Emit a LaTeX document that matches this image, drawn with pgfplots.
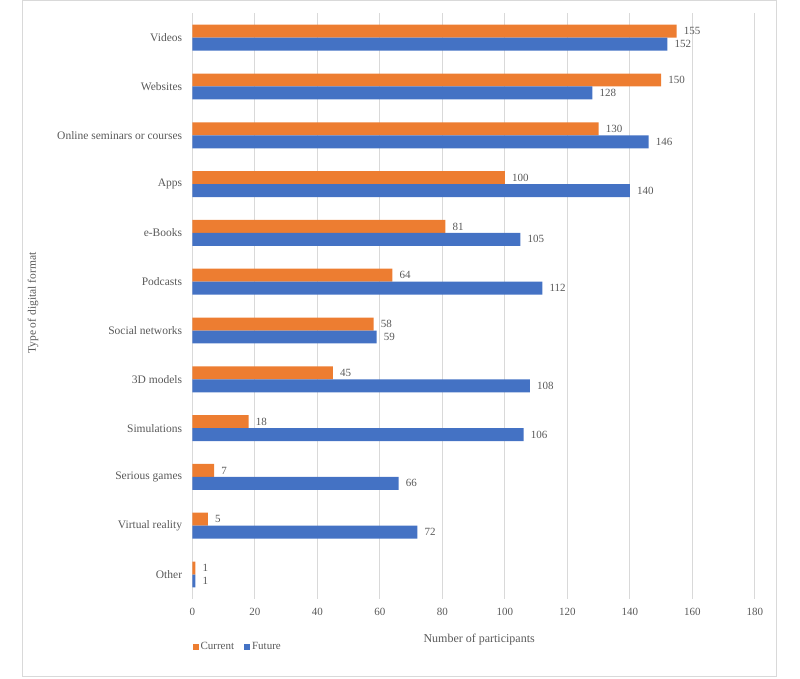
\documentclass[border=0pt]{standalone}
\usepackage{pgfplots}
\pgfplotsset{compat=1.18}
\usepackage{fontspec}
\setmainfont{Liberation Serif}
\definecolor{cur}{HTML}{ED7D31}
\definecolor{fut}{HTML}{4472C4}
\definecolor{txt}{HTML}{595959}
\definecolor{grd}{HTML}{D9D9D9}
\begin{document}
\begin{tikzpicture}
% page size and outer frame
\path (0pt,0pt) rectangle (800pt,679pt);
\draw[grd, line width=1pt] (22pt,2pt) rectangle (776pt,678pt);
\begin{axis}[
    at={(192.3pt,80.1pt)}, anchor=south west,
    scale only axis, width=562.5pt, height=585.6pt,
    xbar, bar width=0.266,
    xmin=0, xmax=180, ymin=-0.5, ymax=11.5, y dir=reverse,
    xtick={0,20,...,180},
    ytick={0,...,11},
    yticklabels={Videos, Websites, Online seminars or courses, Apps, e-Books, Podcasts, Social networks, 3D models, Simulations, Serious games, Virtual reality, Other},
    xmajorgrids, grid style={grd, line width=0.8pt},
    axis line style={draw=none},
    major tick length=0,
    tick label style={font=\fontsize{11}{13}\selectfont, text=txt, inner sep=0pt},
    xticklabel style={yshift=-9pt},
    yticklabel style={anchor=east, xshift=-10pt, font=\fontsize{11.5}{13}\selectfont},
    /pgf/number format/assume math mode=true,
    xlabel={Number of participants},
    ylabel={Type of digital format},
    every axis x label/.style={at={(axis description cs:0.51,-0.07)}, anchor=center, font=\fontsize{12}{14}\selectfont, text=txt},
    every axis y label/.style={at={(axis description cs:-0.283,0.505)}, rotate=90, anchor=center, font=\fontsize{11.5}{14}\selectfont, text=txt},
    nodes near coords,
    every node near coord/.append style={anchor=west, inner sep=0pt, xshift=7pt, font=\fontsize{11}{13}\selectfont, text=txt},
    legend columns=2,
    legend style={at={(axis description cs:0,-0.082)}, anchor=west, draw=none, fill=none, inner sep=0pt,
        font=\fontsize{11}{13}\selectfont, text=txt,
        /tikz/every even column/.append style={column sep=8pt}},
    legend image code/.code={\fill[#1] (0pt,-3pt) rectangle (6pt,3pt);},
]
% Current
\addplot[fill=cur, draw=none, bar shift=-0.133] coordinates {
    (155,0) (150,1) (130,2) (100,3) (81,4) (64,5)
    (58,6) (45,7) (18,8) (7,9) (5,10) (1,11)
};
% Future
\addplot[fill=fut, draw=none, bar shift=0.133] coordinates {
    (152,0) (128,1) (146,2) (140,3) (105,4) (112,5)
    (59,6) (108,7) (106,8) (66,9) (72,10) (1,11)
};
\legend{Current, Future}
\end{axis}
\end{tikzpicture}
\end{document}
